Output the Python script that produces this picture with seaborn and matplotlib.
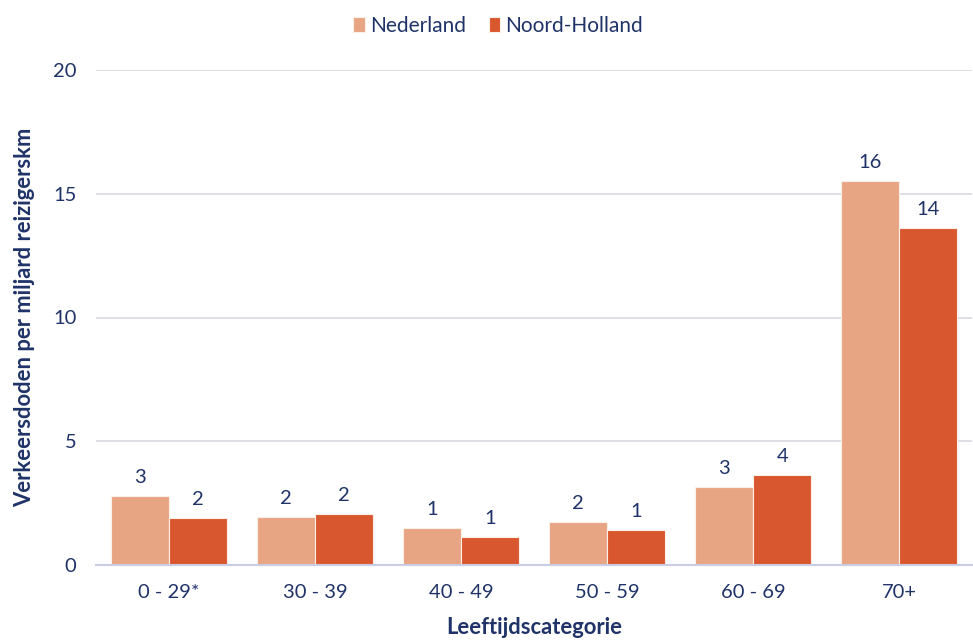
import matplotlib
matplotlib.use("Agg")
import matplotlib.pyplot as plt
import seaborn as sns
import pandas as pd

categories = ["0 - 29*", "30 - 39", "40 - 49", "50 - 59", "60 - 69", "70+"]
nederland = [2.79, 1.94, 1.49, 1.74, 3.16, 15.52]
noord_holland = [1.90, 2.06, 1.13, 1.42, 3.64, 13.62]
series_names = ["Nederland", "Noord-Holland"]
y_ticks = [0, 5, 10, 15, 20]

df = pd.DataFrame({
    "cat": categories * 2,
    "value": nederland + noord_holland,
    "serie": [series_names[0]] * len(categories) + [series_names[1]] * len(categories),
})

sns.set_theme(style="white")
plt.rcParams["font.family"] = ["Lato", "DejaVu Sans"]

navy = "#1F3368"
colors = {"Nederland": "#E8A583", "Noord-Holland": "#D9572E"}

fig = plt.figure(figsize=(9.73, 6.4), dpi=100)
ax = fig.add_axes([96 / 973, 1 - 565 / 640, 876 / 973, 495 / 640])

sns.barplot(data=df, x="cat", y="value", hue="serie", palette=colors,
            width=0.8, edgecolor="#FBEFE8", linewidth=0.8, ax=ax,
            saturation=1, errorbar=None)

ax.set_ylim(0, 20)
ax.set_xlim(-0.5, 5.5)
ax.set_yticks(y_ticks)
ax.yaxis.grid(True, color="#D9D9E3", linewidth=1.2)
ax.set_axisbelow(True)
for s in ["top", "right", "left"]:
    ax.spines[s].set_visible(False)
ax.spines["bottom"].set_color("#C9CCE3")
ax.spines["bottom"].set_linewidth(1.5)
ax.tick_params(axis="both", length=0, labelsize=14.5, labelcolor=navy)
ax.tick_params(axis="y", pad=14)
ax.tick_params(axis="x", pad=14)

for cont in ax.containers:
    ax.bar_label(cont, fmt="%.0f", padding=7, fontsize=14.5, color=navy)

ax.set_xlabel("Leeftijdscategorie", fontsize=15.8, fontweight="bold", color=navy, labelpad=11)
ax.set_ylabel("Verkeersdoden per miljard reizigerskm", fontsize=15.8, fontweight="bold",
              color=navy, labelpad=13)

handles, labels = ax.get_legend_handles_labels()
ax.legend_.remove()
fig.legend(handles, labels, loc="center", bbox_to_anchor=(0.512, 1 - 26 / 640), ncol=2,
           frameon=False, fontsize=15, labelcolor=navy, handlelength=0.55,
           handleheight=0.7, handletextpad=0.25, columnspacing=1.1)

fig.savefig("out.png", dpi=100)
